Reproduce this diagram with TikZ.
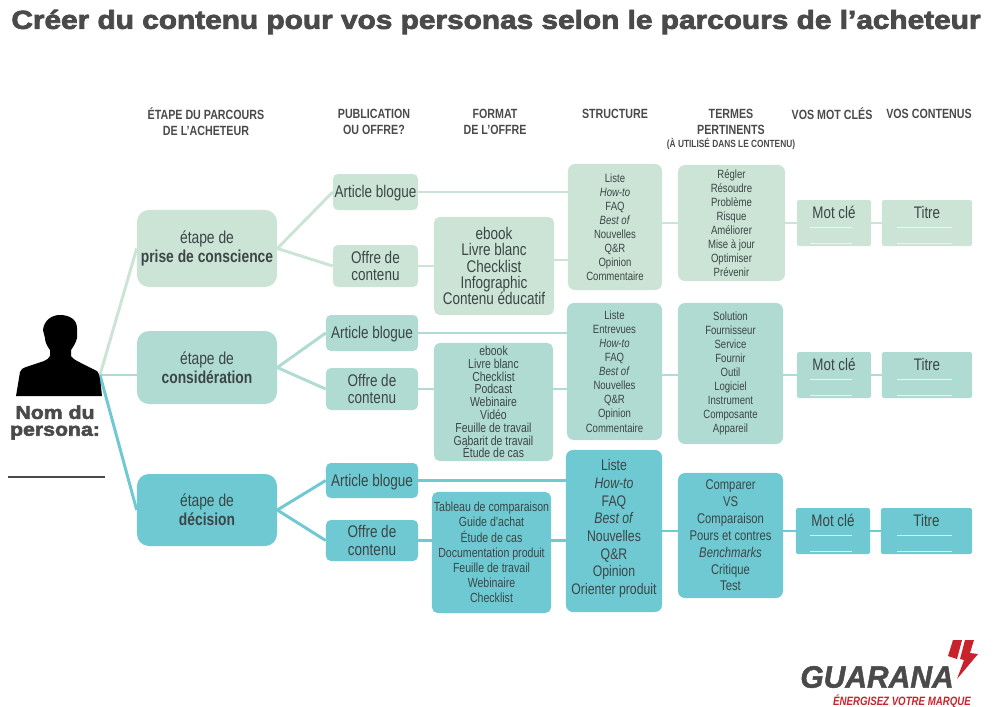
\documentclass[tikz,border=0pt]{standalone}
\usepackage{fontspec}
\setmainfont[FakeStretch=0.8]{Liberation Sans}
\newfontfamily\blackfont[FakeStretch=1.146,FakeBold=3]{Liberation Sans}
\newfontfamily\logofont[FakeStretch=0.97,FakeBold=1.5]{Liberation Sans}
\usetikzlibrary{backgrounds}
\definecolor{toneone}{HTML}{CBE4D6}
\definecolor{tonetwo}{HTML}{B0DBD2}
\definecolor{tonethree}{HTML}{6EC9D2}
\definecolor{inkdark}{HTML}{3C4646}
\definecolor{inkhead}{HTML}{4A4A4A}
\definecolor{guared}{HTML}{C8232C}
\begin{document}
\begin{tikzpicture}
[x=0.025cm,y=-0.025cm,
stagebox/.style={rectangle,rounded corners=8.5pt,inner sep=0pt,align=center,text=inkdark,font=\fontsize{12.3}{13.5}\selectfont},
pubbox/.style={rectangle,rounded corners=3.5pt,inner sep=0pt,align=center,text=inkdark,font=\fontsize{12}{12.2}\selectfont},
fmtbox/.style={rectangle,rounded corners=4pt,inner sep=0pt,align=center,text=inkdark},
listbox/.style={rectangle,rounded corners=5pt,inner sep=0pt,align=center,text=inkdark},
keybox/.style={rectangle,rounded corners=1.5pt,inner sep=0pt,align=center,text=inkdark,font=\fontsize{11.9}{13}\selectfont,minimum height=1.15cm},
head/.style={inner sep=0pt,align=center,text=inkhead,font=\bfseries\fontsize{9.5}{11.4}\selectfont},
linkone/.style={draw=toneone,line width=2.1pt},
linktwo/.style={draw=tonetwo,line width=2.1pt},
linkthree/.style={draw=tonethree,line width=2.1pt},
blank/.style={draw=white,line width=0.5pt,opacity=0.7},
small/.style={font=\fontsize{8.5}{10}\selectfont},
medium/.style={font=\fontsize{9.4}{10.8}\selectfont},
large/.style={font=\fontsize{10.9}{12.6}\selectfont}]

\useasboundingbox (0,0) rectangle (1000,706);

\node at (496,22) [inner sep=0pt,text=inkhead,font=\blackfont\bfseries\fontsize{18.5}{20}\selectfont] (title)
  {Créer du contenu pour vos personas selon le parcours de l’acheteur};

% column heads
\node at (206,122) [head] (headstage) {ÉTAPE DU PARCOURS\\DE L'ACHETEUR};
\node at (374,122) [head] (headpub)   {PUBLICATION\\OU OFFRE?};
\node at (495,122) [head] (headfmt)   {FORMAT\\DE L'OFFRE};
\node at (615,114) [head] (headstr)   {STRUCTURE};
\node at (731,122) [head] (headter)   {TERMES\\PERTINENTS};
\node at (731,144) [head,font=\bfseries\fontsize{7.4}{8}\selectfont] (headsub) {(À UTILISÉ DANS LE CONTENU)};
\node at (832,114) [head] (headkey)   {VOS MOT CLÉS};
\node at (929,114) [head] (headtit)   {VOS CONTENUS};

% persona
\fill[black] (16,396) -- (20,372) .. controls (21,369) and (23,368) .. (26,367) -- (44,361)
  .. controls (47,360) and (49,358) .. (50,356) -- (50,350) .. controls (47,346) and (45,342) .. (45,338)
  -- (43,330) .. controls (44,320) and (52,315) .. (60,315) .. controls (70,315) and (77,320) .. (77,328)
  -- (77,338) .. controls (76,343) and (73,347) .. (71,350) -- (71,356)
  .. controls (73,359) and (77,361) .. (81,363) -- (97,371) .. controls (99,373) and (100,376) .. (102,396) -- cycle;
\node at (55,422.5) [inner sep=0pt,align=center,text=inkhead,font=\blackfont\bfseries\fontsize{13.2}{12}\selectfont] (persona) {Nom du\\persona:};
\draw[draw=inkhead,line width=0.8pt] (8,477) -- (105,477);
\coordinate (hub) at (100,375);

% stages
\node at (207,248.5) [stagebox,fill=toneone,minimum width=3.5cm,minimum height=1.925cm] (stage1) {étape de\\\textbf{prise de conscience}};
\node at (207,367.5) [stagebox,fill=tonetwo,minimum width=3.5cm,minimum height=1.825cm] (stage2) {étape de\\\textbf{considération}};
\node at (207,510)   [stagebox,fill=tonethree,minimum width=3.5cm,minimum height=1.8cm] (stage3) {étape de\\\textbf{décision}};

% publication or offer
\node at (375.5,192) [pubbox,fill=toneone,minimum width=2.125cm,minimum height=0.9cm]  (art1) {\raisebox{-3.9pt}[0pt][0pt]{Article blogue}};
\node at (375.5,266) [pubbox,fill=toneone,minimum width=2.125cm,minimum height=1.05cm] (off1) {Offre de\\contenu};
\node at (372,333)   [pubbox,fill=tonetwo,minimum width=2.3cm,minimum height=0.9cm]    (art2) {\raisebox{-3.9pt}[0pt][0pt]{Article blogue}};
\node at (372,389)   [pubbox,fill=tonetwo,minimum width=2.3cm,minimum height=1.05cm]   (off2) {Offre de\\contenu};
\node at (372,480.5) [pubbox,fill=tonethree,minimum width=2.3cm,minimum height=0.875cm] (art3) {\raisebox{-4.6pt}[0pt][0pt]{Article blogue}};
\node at (372,540.5) [pubbox,fill=tonethree,minimum width=2.3cm,minimum height=1.025cm] (off3) {Offre de\\contenu};

% formats
\node at (494,266) [fmtbox,fill=toneone,minimum width=3cm,minimum height=2.45cm,font=\fontsize{12}{11.7}\selectfont] (fmt1)
  {ebook\\Livre blanc\\Checklist\\Infographic\\Contenu éducatif};
\node at (493.5,402) [fmtbox,fill=tonetwo,minimum width=2.975cm,minimum height=2.95cm,font=\fontsize{9.3}{9.1}\selectfont] (fmt2)
  {ebook\\Livre blanc\\Checklist\\Podcast\\Webinaire\\Vidéo\\Feuille de travail\\Gabarit de travail\\Étude de cas};
\node at (491.5,552.5) [fmtbox,fill=tonethree,minimum width=2.975cm,minimum height=3.025cm,medium] (fmt3)
  {Tableau de comparaison\\Guide d’achat\\Étude de cas\\Documentation produit\\Feuille de travail\\Webinaire\\Checklist};

% structures
\node at (615,227) [listbox,fill=toneone,minimum width=2.35cm,minimum height=3.15cm,small] (str1)
  {Liste\\\textit{How-to}\\FAQ\\\textit{Best of}\\Nouvelles\\Q\&R\\Opinion\\Commentaire};
\node at (614.5,371.5) [listbox,fill=tonetwo,minimum width=2.375cm,minimum height=3.425cm,small] (str2)
  {Liste\\Entrevues\\\textit{How-to}\\FAQ\\\textit{Best of}\\Nouvelles\\Q\&R\\Opinion\\Commentaire};
\node at (614,531) [listbox,fill=tonethree,minimum width=2.4cm,minimum height=4.05cm,large] (str3)
  {Liste\\\textit{How-to}\\FAQ\\\textit{Best of}\\Nouvelles\\Q\&R\\Opinion\\Orienter produit\\[-7pt]};

% relevant terms
\node at (731.5,223) [listbox,fill=toneone,minimum width=2.675cm,minimum height=2.9cm,small] (ter1)
  {Régler\\Résoudre\\Problème\\Risque\\Améliorer\\Mise à jour\\Optimiser\\Prévenir};
\node at (730.5,373.5) [listbox,fill=tonetwo,minimum width=2.625cm,minimum height=3.525cm,small] (ter2)
  {Solution\\Fournisseur\\Service\\Fournir\\Outil\\Logiciel\\Instrument\\Composante\\Appareil};
\node at (730.5,535.5) [listbox,fill=tonethree,minimum width=2.625cm,minimum height=3.125cm,font=\fontsize{10}{12}\selectfont] (ter3)
  {Comparer\\VS\\Comparaison\\Pours et contres\\\textit{Benchmarks}\\Critique\\Test};

% keywords and contents
\node at (834,223) [keybox,fill=toneone,minimum width=1.85cm]   (mot1) {\raisebox{3pt}[0pt][0pt]{Mot clé}};
\node at (834,375) [keybox,fill=tonetwo,minimum width=1.85cm]   (mot2) {\raisebox{3pt}[0pt][0pt]{Mot clé}};
\node at (833,531) [keybox,fill=tonethree,minimum width=1.85cm] (mot3) {\raisebox{3pt}[0pt][0pt]{Mot clé}};
\node at (927,223) [keybox,fill=toneone,minimum width=2.25cm]   (tit1) {\raisebox{3pt}[0pt][0pt]{Titre}};
\node at (927,375) [keybox,fill=tonetwo,minimum width=2.25cm]   (tit2) {\raisebox{3pt}[0pt][0pt]{Titre}};
\node at (926.5,531) [keybox,fill=tonethree,minimum width=2.275cm] (tit3) {\raisebox{3pt}[0pt][0pt]{Titre}};

\foreach \y in {227,243,379,395,535,551}{
  \draw[blank] (810,\y) -- (852,\y);
  \draw[blank] (897,\y) -- (952,\y);
}

% connectors
\begin{scope}[on background layer]
\draw[linkone]   (hub) -- (stage1.west);
\draw[linktwo]   (hub) -- (stage2.west |- hub);
\draw[linkthree] (hub) -- (stage3.west);

\draw[linkone] (stage1.east) -- (art1.west);
\draw[linkone] (stage1.east) -- (off1.west);
\draw[linkone] (art1.east) -- (art1.east -| str1.west);
\draw[linkone] (off1.east) -- (fmt1.west);
\draw[linkone] (fmt1.east |- 0,260) -- (str1.west |- 0,260);
\draw[linkone] (str1.east |- mot1.west) -- (mot1.west);
\draw[linkone] (mot1.east) -- (tit1.west);

\draw[linktwo] (stage2.east) -- (art2.west);
\draw[linktwo] (stage2.east) -- (off2.west);
\draw[linktwo] (art2.east) -- (art2.east -| str2.west);
\draw[linktwo] (off2.east) -- (fmt2.west |- off2.east);
\draw[linktwo] (fmt2.east |- off2.east) -- (str2.west |- off2.east);
\draw[linktwo] (str2.east |- mot2.west) -- (mot2.west);
\draw[linktwo] (mot2.east) -- (tit2.west);

\draw[linkthree] (stage3.east) -- (art3.west);
\draw[linkthree] (stage3.east) -- (off3.west);
\draw[linkthree] (art3.east) -- (art3.east -| str3.west);
\draw[linkthree] (off3.east) -- (fmt3.west |- off3.east);
\draw[linkthree] (fmt3.east |- off3.east) -- (str3.west |- off3.east);
\draw[linkthree] (str3.east |- mot3.west) -- (mot3.west);
\draw[linkthree] (mot3.east) -- (tit3.west);
\end{scope}

% logo
\fill[guared] (953,640) -- (962,640) -- (957,659) -- (948,656) -- cycle;
\fill[guared] (965,640) -- (974,640) -- (970,653) -- (978,654) -- (957,679) -- (964,660) -- (960,659) -- cycle;
\node at (877,677) [inner sep=0pt,text=inkhead,font=\logofont\bfseries\itshape\fontsize{22}{24}\selectfont] (guarana) {GUARANA};
\node at (902,701) [inner sep=0pt,text=guared,font=\bfseries\itshape\fontsize{8.6}{10}\selectfont] (slogan) {ÉNERGISEZ VOTRE MARQUE};
\end{tikzpicture}
\end{document}
